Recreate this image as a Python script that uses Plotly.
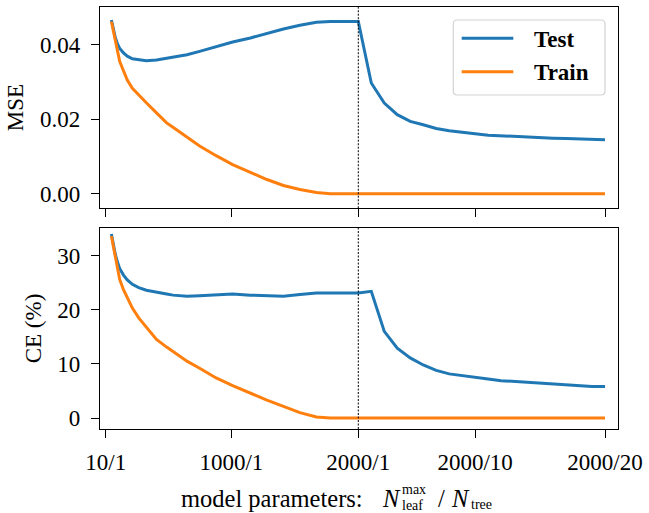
import plotly.graph_objects as go

# ---------------- data ----------------
# first segment: single tree, growing max number of leaves
n_leaf = [55, 70, 85, 100, 120, 150, 180, 220, 270, 330, 410, 490, 540, 650, 750,
          880, 1010, 1150, 1280, 1410, 1540, 1670, 1780, 2000]
mse_test_leaf = [0.0466, 0.0442, 0.0420, 0.0404, 0.0390, 0.0378, 0.0369, 0.0362,
                 0.0359, 0.0357, 0.0359, 0.0363, 0.0366, 0.0373, 0.0382, 0.0395,
                 0.0407, 0.0418, 0.0431, 0.0442, 0.0452, 0.0460, 0.0462, 0.0462]
mse_train_leaf = [0.0462, 0.0435, 0.0410, 0.0388, 0.0355, 0.0330, 0.0305, 0.0283,
                  0.0264, 0.0244, 0.0217, 0.0190, 0.0178, 0.0152, 0.0128, 0.0102,
                  0.0078, 0.0057, 0.0038, 0.0022, 0.0011, 0.0003, 0.0, 0.0]
ce_test_leaf = [34.0, 32.0, 30.3, 29.0, 27.6, 26.4, 25.5, 24.7, 24.1, 23.6, 23.2,
                22.9, 22.7, 22.5, 22.6, 22.8, 22.9, 22.7, 22.6, 22.5, 22.8, 23.1,
                23.1, 23.1]
ce_train_leaf = [33.6, 31.6, 29.6, 27.5, 25.6, 23.7, 22.3, 20.3, 18.5, 16.8, 14.5,
                 13.1, 12.3, 10.5, 9.2, 7.4, 6.0, 4.6, 3.3, 2.15, 1.0, 0.2, 0.0, 0.0]

# second segment: N_leaf = 2000, growing number of trees
n_tree = list(range(2, 21))
mse_test_tree = [0.0297, 0.0243, 0.0212, 0.0194, 0.0185, 0.0175, 0.0169, 0.0164,
                 0.0161, 0.0157, 0.0155, 0.0153, 0.0152, 0.0151, 0.0149, 0.0148,
                 0.0147, 0.0146, 0.0145]
mse_train_tree = [0.0] * 19
ce_test_tree = [23.4, 16.0, 12.9, 11.1, 9.8, 8.8, 8.15, 7.8, 7.5, 7.2, 6.9, 6.75,
                6.6, 6.4, 6.2, 6.1, 6.0, 5.8, 5.8]
ce_train_tree = [0.0] * 19

tick_labels = ["10/1", "1000/1", "2000/1", "2000/10", "2000/20"]

# ---------------- axis coordinate ----------------
TREE_STEP = 102.3  # axis units per added tree


def tree_x(t):
    return 2000 + (t - 1) * TREE_STEP


x_all = n_leaf + [tree_x(t) for t in n_tree]
tick_vals = [10, 1000, 2000, tree_x(10), tree_x(20)]

BLUE = "#1f77b4"
ORANGE = "#ff7f0e"
FONT = "Liberation Serif"

fig = go.Figure()
fig.add_trace(go.Scatter(x=x_all, y=mse_test_leaf + mse_test_tree, mode="lines",
                         line=dict(color=BLUE, width=3), name="Test",
                         xaxis="x", yaxis="y", showlegend=False))
fig.add_trace(go.Scatter(x=x_all, y=mse_train_leaf + mse_train_tree, mode="lines",
                         line=dict(color=ORANGE, width=3), name="Train",
                         xaxis="x", yaxis="y", showlegend=False))
fig.add_trace(go.Scatter(x=x_all, y=ce_test_leaf + ce_test_tree, mode="lines",
                         line=dict(color=BLUE, width=3), name="Test",
                         xaxis="x2", yaxis="y2", showlegend=False))
fig.add_trace(go.Scatter(x=x_all, y=ce_train_leaf + ce_train_tree, mode="lines",
                         line=dict(color=ORANGE, width=3), name="Train",
                         xaxis="x2", yaxis="y2", showlegend=False))

W, H = 649, 513
ML, MR, MT, MB = 100, 31, 7, 84
PW, PH = W - ML - MR, H - MT - MB


def px(xp):
    return (xp - ML) / PW


def py(yp):
    return (H - MB - yp) / PH


axis_common = dict(showline=True, mirror=True, linecolor="black", linewidth=1.3,
                   ticks="outside", ticklen=8, tickwidth=1.3, tickcolor="black",
                   showgrid=False, zeroline=False,
                   tickfont=dict(family=FONT, size=23, color="black"))

xr = [-35, 4046]
fig.update_layout(
    width=W, height=H,
    margin=dict(l=ML, r=MR, t=MT, b=MB),
    paper_bgcolor="white", plot_bgcolor="white",
    font=dict(family=FONT, color="black"),
    xaxis=dict(axis_common, domain=[0, 1], anchor="y", range=xr,
               tickvals=tick_vals, showticklabels=False, matches="x2"),
    yaxis=dict(axis_common, domain=[0.5232, 1], anchor="x", range=[-0.0039, 0.0501],
               tickvals=[0.0, 0.02, 0.04], ticktext=["0.00", "0.02", "0.04"],
               title=dict(text="MSE", font=dict(family=FONT, size=23), standoff=9),
               ticklabelstandoff=6),
    xaxis2=dict(axis_common, domain=[0, 1], anchor="y2", range=xr,
                tickvals=tick_vals, ticktext=tick_labels, ticklabelstandoff=4),
    yaxis2=dict(axis_common, domain=[0, 0.4763], anchor="x2", range=[-2.03, 35.1],
                tickvals=[0, 10, 20, 30],
                title=dict(text="CE (%)", font=dict(family=FONT, size=23), standoff=9),
                ticklabelstandoff=6),
)

# dotted separator at 2000/1
for xa, yref in [("x", "y domain"), ("x2", "y2 domain")]:
    fig.add_shape(type="line", xref=xa, yref=yref, x0=2000, x1=2000, y0=0, y1=1,
                  line=dict(color="black", width=1, dash="2px,1.5px"))

# legend (drawn manually to match box geometry)
bx0, bx1, by0, by1, r = 453.3, 605, 20, 95, 4
rx, ry = r / PW, r / PH
X0, X1, Y0, Y1 = px(bx0), px(bx1), py(by1), py(by0)
path = (f"M{X0+rx},{Y0} L{X1-rx},{Y0} Q{X1},{Y0} {X1},{Y0+ry} "
        f"L{X1},{Y1-ry} Q{X1},{Y1} {X1-rx},{Y1} L{X0+rx},{Y1} Q{X0},{Y1} {X0},{Y1-ry} "
        f"L{X0},{Y0+ry} Q{X0},{Y0} {X0+rx},{Y0} Z")
fig.add_shape(type="path", xref="paper", yref="paper", path=path,
              fillcolor="rgba(255,255,255,0.8)", line=dict(color="#d3d3d3", width=1.2))
for name, color, yy in [("Test", BLUE, 38.3), ("Train", ORANGE, 71.7)]:
    fig.add_shape(type="line", xref="paper", yref="paper", x0=px(461.7), x1=px(513.3),
                  y0=py(yy), y1=py(yy), line=dict(color=color, width=3))
    fig.add_annotation(xref="paper", yref="paper", x=px(531.7), y=py(yy + 1),
                       xanchor="left", yanchor="middle", showarrow=False,
                       text=f"<b>{name}</b>", font=dict(family=FONT, size=23, color="black"))


# x-axis title with stacked super/subscripts
def ann(text, xl, yc, size):
    fig.add_annotation(xref="paper", yref="paper", x=px(xl), y=py(yc),
                       xanchor="left", yanchor="middle", showarrow=False,
                       text=text, font=dict(family=FONT, size=size, color="black"),
                       borderpad=0)


ann("model parameters:", 180, 498, 24.5)
ann("<i>N</i>", 381, 498, 24.5)
ann("max", 401, 489.5, 14)
ann("leaf", 401, 505, 14)
ann("/", 437, 498, 24.5)
ann("<i>N</i>", 450, 498, 24.5)
ann("tree", 470, 504, 14)

fig.write_html("out.html")
